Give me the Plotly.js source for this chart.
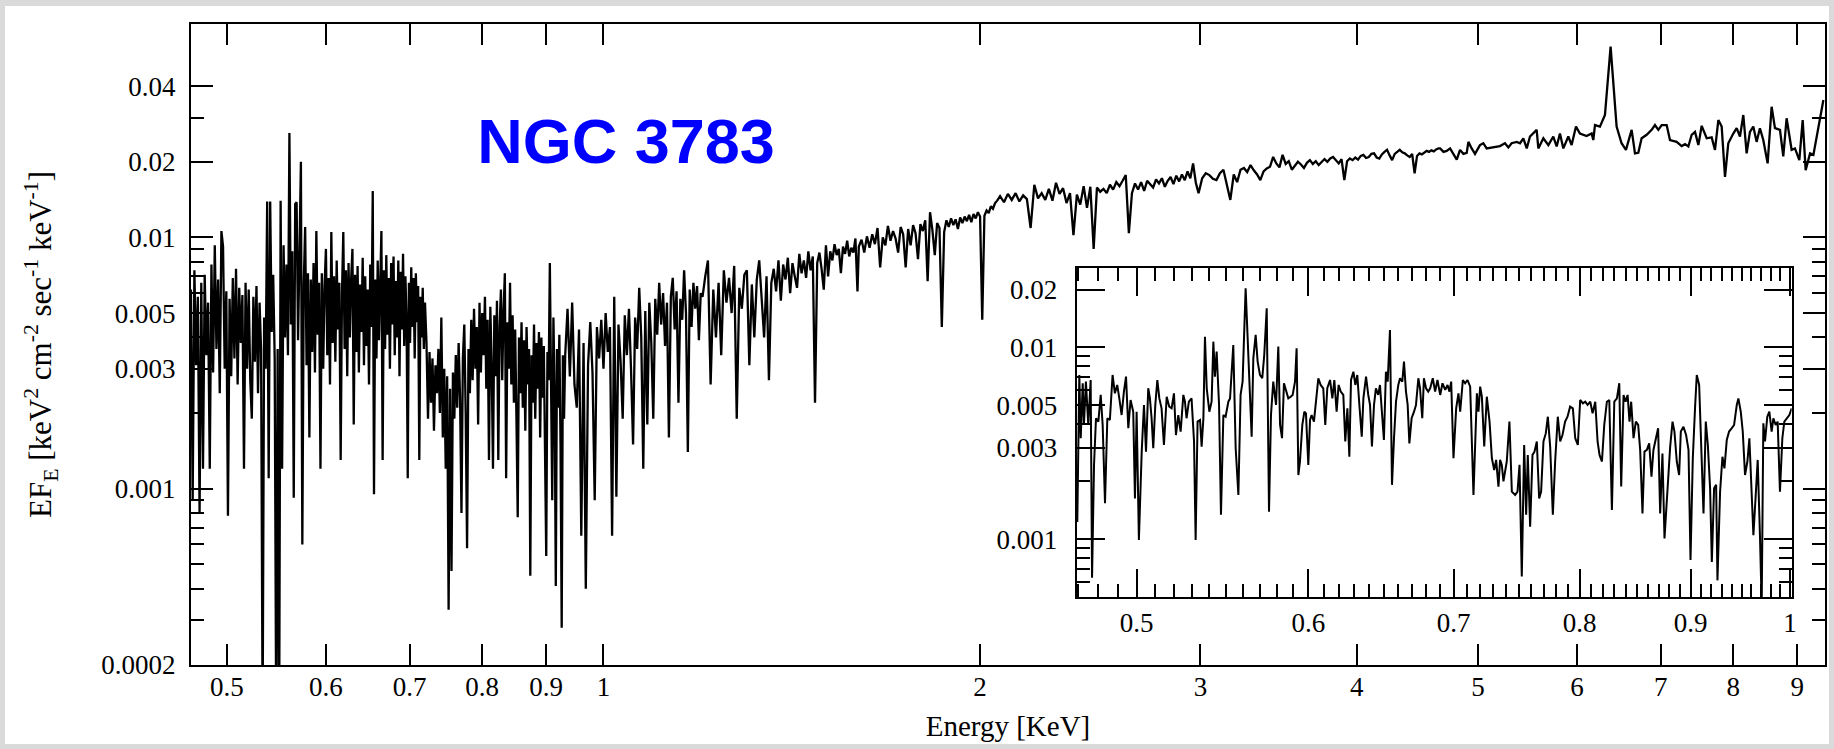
<!DOCTYPE html>
<html><head><meta charset="utf-8">
<script src="https://cdn.plot.ly/plotly-3.0.1.min.js"></script>
<style>
html,body{margin:0;padding:0;width:1834px;height:749px;overflow:hidden;background:#dadada;}
#plot{position:absolute;left:5px;top:6px;width:1824px;height:738px;background:#fff;}
</style></head><body><div id="plot"></div>
<script>
// ---------- main spectrum, 0.468-0.72 keV ----------
const softE = [0.468,0.4695,0.471,0.4725,0.474,0.4755,0.477,0.4785,0.48,0.4815,
0.483,0.4845,0.486,0.4875,0.489,0.4905,0.492,0.4935,0.495,0.4965,
0.498,0.4995,0.501,0.5025,0.504,0.5055,0.507,0.5085,0.51,0.5115,
0.513,0.5145,0.516,0.5175,0.519,0.5205,0.522,0.5235,0.525,0.5265,
0.528,0.5295,0.531,0.5325,0.534,0.5355,0.537,0.5385,0.54,0.5415,
0.543,0.5445,0.546,0.5475,0.549,0.5505,0.552,0.5535,0.555,0.5565,
0.558,0.5595,0.561,0.5625,0.564,0.5655,0.567,0.5685,0.57,0.5715,
0.573,0.5745,0.576,0.5775,0.579,0.5805,0.582,0.5835,0.585,0.5865,
0.588,0.5895,0.591,0.5925,0.594,0.5955,0.597,0.5985,0.6,0.6015,
0.603,0.6045,0.606,0.6075,0.609,0.6105,0.612,0.6135,0.615,0.6165,
0.618,0.6195,0.621,0.6225,0.624,0.6255,0.627,0.6285,0.63,0.6315,
0.633,0.6345,0.636,0.6375,0.639,0.6405,0.642,0.6435,0.645,0.6465,
0.648,0.6495,0.651,0.6525,0.654,0.6555,0.657,0.6585,0.66,0.6615,
0.663,0.6645,0.666,0.6675,0.669,0.6705,0.672,0.6735,0.675,0.6765,
0.678,0.6795,0.681,0.6825,0.684,0.6855,0.687,0.6885,0.69,0.6915,
0.693,0.6945,0.696,0.6975,0.699,0.7005,0.702,0.7035,0.705,0.7065,
0.708,0.7095,0.711,0.7125,0.714,0.7155,0.717,0.7185,0.72];
const softF = [0.0062,0.0009,0.0074,0.0031,0.0058,0.0008,0.0066,0.0012,0.0071,0.0034,
0.0055,0.0012,0.0078,0.0029,0.0093,0.0036,0.0068,0.0024,0.0106,0.0092,
0.0030,0.0061,0.00078,0.0057,0.0028,0.0069,0.0033,0.0075,0.0026,0.0063,
0.0038,0.0059,0.0012,0.0066,0.0030,0.0062,0.0027,0.0019,0.0058,0.0032,
0.0064,0.0024,0.0055,0.0036,0.00012,0.0048,0.0030,0.0139,0.0011,0.0139,
0.0042,0.0071,0.0033,0.00012,0.0036,0.0001,0.0140,0.0012,0.0093,0.0040,
0.0078,0.0034,0.0260,0.0045,0.0088,0.00092,0.0136,0.0138,0.0039,0.0082,
0.0200,0.0006,0.0065,0.0110,0.0031,0.0072,0.0016,0.0068,0.0035,0.0079,
0.0029,0.0106,0.0041,0.0066,0.0012,0.0072,0.0030,0.0064,0.0090,0.0034,
0.0069,0.0026,0.0105,0.0038,0.0070,0.0032,0.0081,0.0043,0.0066,0.0013,
0.0060,0.0105,0.0036,0.0074,0.0028,0.0079,0.0040,0.0068,0.0090,0.0018,
0.0071,0.0035,0.0077,0.0029,0.0065,0.0042,0.0083,0.0031,0.0070,0.0037,
0.0062,0.0026,0.0078,0.0044,0.0153,0.00095,0.0068,0.0033,0.0081,0.0039,
0.0072,0.0106,0.0013,0.0074,0.0036,0.0085,0.0041,0.0069,0.0030,0.0079,
0.0045,0.0084,0.0034,0.0067,0.0040,0.0081,0.0028,0.0073,0.0043,0.0086,
0.0037,0.0070,0.0047,0.0011,0.0066,0.0038,0.0076,0.0044,0.0069,0.0033,
0.0072,0.0046,0.0064,0.0013,0.0058,0.0040,0.0063,0.0036,0.0055];

// ---------- 0.722-0.93 keV ----------
const midE = [0.722,0.724,0.726,0.728,0.730,0.732,0.734,0.736,0.738,0.740,
0.742,0.744,0.746,0.748,0.750,0.752,0.754,0.756,0.758,0.760,
0.762,0.764,0.766,0.768,0.770,0.772,0.774,0.776,0.778,0.780,
0.782,0.784,0.786,0.788,0.790,0.792,0.794,0.796,0.798,0.800,
0.802,0.804,0.806,0.808,0.810,0.812,0.814,0.816,0.818,0.820,
0.822,0.824,0.826,0.828,0.830,0.832,0.834,0.836,0.838,0.840,
0.842,0.844,0.846,0.848,0.850,0.852,0.854,0.856,0.858,0.860,
0.862,0.864,0.866,0.868,0.870,0.872,0.874,0.876,0.878,0.880,
0.882,0.884,0.886,0.888,0.890,0.892,0.894,0.896,0.898,0.900,
0.902,0.904,0.906,0.908,0.910,0.912,0.914,0.916,0.918,0.920,
0.922,0.924,0.926,0.928,0.930];
const midF = [0.0038,0.0019,0.0035,0.0022,0.0033,0.0017,0.0031,0.0024,0.0036,0.0020,
0.0048,0.0016,0.0030,0.0012,0.0028,0.00033,0.0025,0.00047,0.0029,0.0019,
0.0034,0.0021,0.0038,0.0023,0.0008,0.0033,0.0045,0.0020,0.00058,0.0036,
0.0024,0.0047,0.0027,0.0052,0.0030,0.0044,0.0018,0.0055,0.0029,0.0050,
0.0034,0.0058,0.0025,0.0047,0.0013,0.0053,0.0031,0.0012,0.0049,0.0028,
0.0056,0.0013,0.0044,0.0062,0.0027,0.0051,0.0072,0.0011,0.0046,0.0030,
0.0066,0.0026,0.0049,0.0022,0.0043,0.0019,0.00077,0.0040,0.0024,0.0046,
0.0021,0.0039,0.0017,0.0044,0.0026,0.0036,0.00045,0.0034,0.0022,0.0045,
0.0019,0.0038,0.0025,0.0042,0.0016,0.0040,0.0023,0.0037,0.0011,0.00054,
0.0035,0.0027,0.0079,0.0033,0.0009,0.0048,0.0024,0.00041,0.0036,0.0021,
0.0041,0.0015,0.00028,0.0034,0.0019];

// ---------- 0.932-1.2 keV ----------
const c1E = [0.932,0.936,0.940,0.944,0.948,0.952,0.956,0.960,0.964,0.968,
0.972,0.976,0.980,0.984,0.988,0.992,0.996,1.000,1.004,1.008,
1.012,1.016,1.020,1.024,1.028,1.032,1.036,1.040,1.044,1.048,
1.052,1.056,1.060,1.064,1.068,1.072,1.076,1.080,1.084,1.088,
1.092,1.096,1.100,1.104,1.108,1.112,1.116,1.120,1.124,1.128,
1.132,1.136,1.140,1.144,1.148,1.152,1.156,1.160,1.164,1.168,
1.172,1.176,1.180,1.184,1.188,1.192,1.196];
const c1F = [0.0034,0.0052,0.0028,0.0055,0.0026,0.0021,0.0043,0.00065,0.0038,0.0004,
0.0031,0.0046,0.0029,0.0009,0.0044,0.0033,0.0047,0.0030,0.0050,0.0035,
0.0044,0.00065,0.0058,0.00093,0.0045,0.0032,0.0019,0.0049,0.0034,0.0052,
0.0030,0.0015,0.0048,0.0036,0.0063,0.0040,0.0012,0.0051,0.0018,0.0055,
0.0038,0.0019,0.0057,0.0041,0.0066,0.0045,0.0060,0.0037,0.0055,0.0016,
0.0058,0.0069,0.0043,0.0061,0.0022,0.0057,0.0047,0.0074,0.0050,0.0014,
0.0062,0.0044,0.0066,0.0052,0.0064,0.0039,0.0060];

// ---------- 1.2-1.6 keV ----------
const c2E = [1.200,1.206,1.212,1.218,1.224,1.230,1.236,1.242,1.248,1.254,
1.260,1.266,1.272,1.278,1.284,1.290,1.296,1.302,1.308,1.314,
1.320,1.326,1.332,1.338,1.344,1.350,1.356,1.362,1.368,1.374,
1.380,1.386,1.392,1.398,1.404,1.410,1.416,1.422,1.428,1.434,
1.440,1.446,1.452,1.458,1.464,1.470,1.476,1.482,1.488,1.494,
1.500,1.506,1.512,1.518,1.524,1.530,1.536,1.542,1.548,1.554,
1.560,1.566,1.572,1.578,1.584,1.590,1.596];
const c2F = [0.0058,0.0070,0.0081,0.0026,0.0062,0.0040,0.0066,0.0034,0.0074,0.0055,
0.0069,0.0050,0.0077,0.0019,0.0063,0.0052,0.0071,0.0074,0.0031,0.0065,
0.0040,0.0068,0.0081,0.0057,0.0040,0.0070,0.0027,0.0066,0.0075,0.0061,
0.0081,0.0056,0.0078,0.0068,0.0083,0.0060,0.0079,0.0070,0.0063,0.0086,
0.0072,0.0081,0.0069,0.0088,0.0074,0.0084,0.0022,0.0079,0.0087,0.0075,
0.0062,0.0093,0.0070,0.0088,0.0081,0.0094,0.0085,0.0090,0.0072,0.0092,
0.0086,0.0097,0.0084,0.0091,0.0087,0.0099,0.0061];

// ---------- 1.6-2.07 keV ----------
const c3E = [1.600,1.608,1.616,1.624,1.632,1.640,1.648,1.656,1.664,1.672,
1.680,1.688,1.696,1.704,1.712,1.720,1.728,1.736,1.744,1.752,
1.760,1.768,1.776,1.784,1.792,1.800,1.808,1.816,1.824,1.832,
1.840,1.848,1.856,1.864,1.872,1.880,1.888,1.896,1.904,1.912,
1.920,1.928,1.936,1.944,1.952,1.960,1.968,1.976,1.984,1.992,
2.000,2.008,2.016,2.024,2.032,2.040,2.048,2.056,2.064];
const c3F = [0.0092,0.0098,0.0087,0.0101,0.0091,0.0103,0.0094,0.0109,0.0076,0.0100,
0.0093,0.0111,0.0097,0.0106,0.0099,0.0087,0.0110,0.0103,0.0076,0.0108,
0.0093,0.0112,0.0104,0.0082,0.0113,0.0106,0.0117,0.0067,0.0126,0.0107,
0.0085,0.0114,0.0109,0.0044,0.0105,0.0117,0.0110,0.0119,0.0112,0.0118,
0.0108,0.0120,0.0114,0.0121,0.0116,0.0123,0.0115,0.0124,0.0119,0.0126,
0.0121,0.0047,0.0122,0.0128,0.0125,0.0133,0.0130,0.0137,0.0140];

// ---------- 2.07-3.0 keV ----------
const d1E = [2.075,2.090,2.105,2.120,2.135,2.150,2.165,2.180,2.195,2.210,
2.225,2.240,2.255,2.270,2.285,2.300,2.315,2.330,2.345,2.360,
2.375,2.390,2.405,2.420,2.435,2.450,2.465,2.480,2.495,2.510,
2.525,2.540,2.555,2.570,2.585,2.600,2.615,2.630,2.645,2.660,
2.675,2.690,2.705,2.720,2.735,2.750,2.765,2.780,2.795,2.810,
2.825,2.840,2.855,2.870,2.885,2.900,2.915,2.930,2.945,2.960,
2.975,2.990];
const d1F = [0.0146,0.0138,0.0149,0.0141,0.0150,0.0139,0.0147,0.0142,0.0109,0.0162,
0.0143,0.0150,0.0141,0.0156,0.0140,0.0165,0.0149,0.0157,0.0137,0.0150,
0.0102,0.0148,0.0135,0.0160,0.0131,0.0159,0.0090,0.0158,0.0152,0.0156,
0.0150,0.0162,0.0155,0.0166,0.0160,0.0168,0.0177,0.0104,0.0150,0.0164,
0.0155,0.0166,0.0153,0.0168,0.0162,0.0158,0.0170,0.0164,0.0172,0.0159,
0.0168,0.0174,0.0163,0.0176,0.0167,0.0178,0.0169,0.0183,0.0172,0.0197,
0.0165,0.0150];

// ---------- 3.0-4.65 keV ----------
const d2E = [3.01,3.03,3.05,3.07,3.09,3.11,3.13,3.15,3.17,3.19,
3.21,3.23,3.25,3.27,3.29,3.31,3.33,3.35,3.37,3.39,
3.41,3.43,3.45,3.47,3.49,3.51,3.53,3.55,3.57,3.59,
3.61,3.63,3.65,3.67,3.69,3.71,3.73,3.75,3.77,3.79,
3.81,3.83,3.85,3.87,3.89,3.91,3.93,3.95,3.97,3.99,
4.01,4.03,4.05,4.07,4.09,4.11,4.13,4.15,4.17,4.19,
4.21,4.23,4.25,4.27,4.29,4.31,4.33,4.35,4.37,4.39,
4.41,4.43,4.45,4.47,4.49,4.51,4.53,4.55,4.57,4.59,
4.61,4.63,4.65];
const d2F = [0.0172,0.0180,0.0177,0.0171,0.0169,0.0180,0.0186,0.0162,0.0141,0.0178,
0.0166,0.0186,0.0189,0.0182,0.0194,0.0185,0.0178,0.0169,0.0183,0.0188,
0.0191,0.0209,0.0197,0.0190,0.0213,0.0196,0.0201,0.0186,0.0193,0.0200,
0.0195,0.0189,0.0198,0.0203,0.0196,0.0201,0.0194,0.0199,0.0205,0.0200,
0.0206,0.0209,0.0203,0.0197,0.0205,0.0169,0.0201,0.0206,0.0203,0.0208,
0.0204,0.0211,0.0213,0.0207,0.0209,0.0215,0.0216,0.0208,0.0206,0.0214,
0.0219,0.0223,0.0212,0.0203,0.0215,0.0220,0.0223,0.0218,0.0216,0.0212,
0.0209,0.0215,0.0180,0.0211,0.0216,0.0214,0.0218,0.0221,0.0219,0.0222,
0.0220,0.0224,0.0226];

// ---------- 4.66-9.45 keV (Fe K line) ----------
const hardE = [4.664,4.693,4.721,4.750,4.779,4.809,4.838,4.868,4.898,4.913,
4.943,4.973,5.019,5.050,5.081,5.144,5.207,5.255,5.288,5.320,
5.370,5.403,5.436,5.470,5.503,5.571,5.588,5.640,5.692,5.744,
5.780,5.815,5.851,5.905,5.941,5.989,6.033,6.107,6.164,6.183,
6.202,6.259,6.317,6.383,6.454,6.513,6.566,6.635,6.676,6.717,
6.758,6.821,6.884,6.926,6.969,7.012,7.077,7.120,7.208,7.275,
7.320,7.365,7.410,7.456,7.502,7.548,7.618,7.688,7.735,7.783,
7.831,7.879,7.927,8.000,8.050,8.099,8.149,8.199,8.249,8.300,
8.351,8.402,8.454,8.522,8.585,8.638,8.718,8.771,8.825,8.907,
8.962,9.034,9.090,9.140,9.214,9.271,9.443];
const hardF = [0.0226,0.0219,0.0221,0.0226,0.0216,0.0204,0.0223,0.0215,0.0217,0.0240,
0.0226,0.0215,0.0233,0.0237,0.0226,0.0228,0.0231,0.0237,0.0228,0.0237,
0.0240,0.0237,0.0248,0.0226,0.0252,0.0268,0.0226,0.0248,0.0233,0.0252,
0.0230,0.0259,0.0226,0.0252,0.0233,0.0276,0.0259,0.0253,0.0259,0.0244,
0.0280,0.0276,0.0307,0.0574,0.0276,0.0237,0.0223,0.0268,0.0216,0.0217,
0.0248,0.0256,0.0268,0.0280,0.0268,0.0280,0.0280,0.0244,0.0240,0.0231,
0.0235,0.0230,0.0256,0.0263,0.0233,0.0278,0.0248,0.0250,0.0223,0.0293,
0.0276,0.0174,0.0237,0.0259,0.0272,0.0252,0.0307,0.0216,0.0263,0.0276,
0.0240,0.0272,0.0244,0.0197,0.0331,0.0272,0.0268,0.0210,0.0298,0.0223,
0.0226,0.0203,0.0293,0.0185,0.0216,0.0213,0.0352];

// ---------- inset spectrum, 0.47-0.68 keV ----------
const insetE1 = [0.4695,0.4705,0.4712,0.4722,0.4728,0.4738,0.4750,0.4762,0.4769,0.4779,
0.4789,0.4801,0.4813,0.4823,0.4835,0.4847,0.4860,0.4874,0.4886,0.4898,
0.4909,0.4921,0.4933,0.4944,0.4956,0.4968,0.4982,0.4991,0.5000,0.5012,
0.5027,0.5039,0.5050,0.5062,0.5071,0.5080,0.5089,0.5100,0.5111,0.5122,
0.5134,0.5147,0.5162,0.5176,0.5189,0.5202,0.5213,0.5226,0.5239,0.5254,
0.5263,0.5272,0.5285,0.5300,0.5314,0.5323,0.5334,0.5348,0.5357,0.5367,
0.5376,0.5386,0.5401,0.5414,0.5424,0.5433,0.5443,0.5457,0.5468,0.5482,
0.5495,0.5511,0.5521,0.5540,0.5554,0.5570,0.5583,0.5595,0.5613,0.5629,
0.5639,0.5649,0.5659,0.5673,0.5685,0.5699,0.5713,0.5725,0.5740,0.5754,
0.5766,0.5780,0.5797,0.5811,0.5822,0.5834,0.5846,0.5859,0.5873,0.5888,
0.5900,0.5915,0.5925,0.5936,0.5946,0.5961,0.5974,0.5984,0.5999,0.6010,
0.6020,0.6035,0.6048,0.6063,0.6078,0.6095,0.6108,0.6121,0.6139,0.6154,
0.6167,0.6182,0.6195,0.6209,0.6226,0.6239,0.6253,0.6266,0.6277,0.6293,
0.6306,0.6319,0.6333,0.6349,0.6360,0.6378,0.6393,0.6405,0.6418,0.6432,
0.6445,0.6461,0.6473,0.6489,0.6500,0.6514,0.6526,0.6542,0.6556,0.6570,
0.6584,0.6600,0.6612,0.6628,0.6640,0.6654,0.6666,0.6678,0.6694,0.6711,
0.6725,0.6742,0.6754,0.6770,0.6782,0.6797,0.6813];
const insetF1 = [0.00123,0.00718,0.00336,0.0065,0.00394,0.00663,0.00394,0.00676,0.00063,0.00244,
0.00427,0.0041,0.00565,0.00394,0.00154,0.00427,0.00418,0.00718,0.00576,0.00637,
0.00542,0.00444,0.00588,0.00704,0.00379,0.00532,0.00462,0.00163,0.00462,0.00099,
0.00286,0.00501,0.00286,0.00612,0.00542,0.00427,0.00298,0.00501,0.00676,0.00542,
0.00481,0.0031,0.00553,0.00491,0.00481,0.00576,0.00349,0.00444,0.00364,0.00565,
0.00521,0.00427,0.00521,0.00542,0.00323,0.00099,0.0041,0.00418,0.00304,0.00427,
0.01137,0.00612,0.00462,0.00521,0.01071,0.00704,0.0095,0.00501,0.00134,0.00444,
0.00435,0.00521,0.00542,0.01029,0.00298,0.0017,0.00565,0.00663,0.02032,0.00989,
0.00612,0.00342,0.00877,0.01161,0.00843,0.00718,0.0069,0.00913,0.01598,0.00139,
0.00444,0.00663,0.00501,0.01009,0.00394,0.00336,0.0065,0.00588,0.00542,0.00553,
0.00565,0.00663,0.00989,0.00216,0.00254,0.00394,0.00462,0.00453,0.00244,0.00418,
0.00444,0.0041,0.00521,0.0069,0.00637,0.00612,0.00394,0.00612,0.00676,0.00542,
0.00676,0.00462,0.00637,0.00588,0.00565,0.00323,0.00481,0.00269,0.00676,0.00747,
0.00637,0.00718,0.00501,0.00342,0.00542,0.00704,0.00565,0.00501,0.00304,0.00501,
0.00612,0.00565,0.00637,0.0041,0.00329,0.00747,0.00663,0.01232,0.00192,0.00336,
0.00521,0.00637,0.0069,0.00663,0.00843,0.00588,0.00501,0.00316,0.00427,0.00462,
0.00501,0.0069,0.00612,0.00427,0.0069,0.00612,0.00588];

// ---------- inset spectrum, 0.68-1.0 keV ----------
const insetE2 = [0.6827,0.6846,0.6863,0.6880,0.6900,0.6917,0.6937,0.6954,0.6968,0.6981,
0.6998,0.7018,0.7035,0.7048,0.7068,0.7085,0.7103,0.7123,0.7148,0.7174,
0.7186,0.7199,0.7212,0.7230,0.7250,0.7271,0.7289,0.7307,0.7322,0.7340,
0.7353,0.7366,0.7379,0.7405,0.7426,0.7445,0.7471,0.7490,0.7506,0.7524,
0.7543,0.7559,0.7572,0.7591,0.7610,0.7626,0.7645,0.7664,0.7680,0.7699,
0.7718,0.7735,0.7754,0.7776,0.7795,0.7817,0.7837,0.7856,0.7878,0.7898,
0.7920,0.7943,0.7963,0.7985,0.8005,0.8028,0.8048,0.8068,0.8091,0.8111,
0.8134,0.8154,0.8171,0.8192,0.8212,0.8235,0.8256,0.8279,0.8300,0.8323,
0.8344,0.8361,0.8382,0.8400,0.8418,0.8435,0.8450,0.8471,0.8492,0.8513,
0.8531,0.8552,0.8570,0.8592,0.8613,0.8634,0.8652,0.8674,0.8695,0.8714,
0.8735,0.8754,0.8782,0.8807,0.8829,0.8847,0.8869,0.8891,0.8907,0.8932,
0.8957,0.8980,0.8999,0.9021,0.9043,0.9059,0.9082,0.9101,0.9124,0.9146,
0.9166,0.9188,0.9205,0.9227,0.9247,0.9260,0.9286,0.9309,0.9329,0.9352,
0.9375,0.9402,0.9425,0.9452,0.9468,0.9492,0.9512,0.9535,0.9559,0.9579,
0.9603,0.9620,0.9643,0.9664,0.9688,0.9705,0.9722,0.9739,0.9763,0.9784,
0.9808,0.9826,0.9850,0.9871,0.9895,0.9920,0.9941,0.9966,0.9994,1.0019];
const insetF2 = [0.00612,0.0069,0.00588,0.00676,0.00565,0.0065,0.006,0.00637,0.00588,0.00663,
0.00264,0.00481,0.00576,0.00462,0.00676,0.0065,0.00676,0.00624,0.0017,0.00576,
0.00462,0.00624,0.00553,0.00304,0.00553,0.0041,0.00264,0.00229,0.00259,0.00188,
0.00259,0.00244,0.002,0.00254,0.0041,0.00177,0.0017,0.00177,0.00244,0.00064,
0.0031,0.00134,0.00275,0.00116,0.00275,0.00286,0.00323,0.00163,0.00177,0.00323,
0.00356,0.00435,0.00304,0.00134,0.00254,0.00435,0.00323,0.00349,0.0041,0.00435,
0.00491,0.00481,0.00336,0.0031,0.00532,0.00511,0.00521,0.00501,0.00521,0.00453,
0.00521,0.00323,0.00275,0.00254,0.00394,0.00521,0.00532,0.00142,0.00521,0.00542,
0.0065,0.00188,0.00565,0.00521,0.00565,0.0041,0.00521,0.00336,0.0041,0.00394,
0.00292,0.00136,0.00286,0.00292,0.00316,0.00212,0.00292,0.00336,0.00379,0.00136,
0.0028,0.00101,0.00184,0.00304,0.0041,0.00364,0.00254,0.00216,0.00364,0.00386,
0.00349,0.00292,0.00078,0.00264,0.00491,0.00718,0.00637,0.00323,0.00136,0.0041,
0.0031,0.00184,0.00076,0.00184,0.00192,0.00061,0.00177,0.00269,0.00234,0.00329,
0.00364,0.00379,0.00394,0.00501,0.00542,0.00462,0.00364,0.00216,0.00254,0.00336,
0.00163,0.00105,0.00167,0.00259,0.00101,0.00045,0.00402,0.00323,0.00435,0.00462,
0.00364,0.00427,0.00394,0.0041,0.00177,0.00336,0.0041,0.00427,0.00444,0.00481];

// ---------- ticks ----------
const mainXTicks = [0.5,0.6,0.7,0.8,0.9,1,2,3,4,5,6,7,8,9];
const mainXLabels = ['0.5','0.6','0.7','0.8','0.9','1','2','3','4','5','6','7','8','9'];
const mainYTicks = [0.0002,0.001,0.003,0.005,0.01,0.02,0.04];
const mainYLabels = ['0.0002','0.001','0.003','0.005','0.01','0.02','0.04'];
const mainYMinor = [0.0003,0.0004,0.0005,0.0006,0.0007,0.0008,0.0009,0.002,0.004,0.006,0.007,0.008,0.009,0.03];
const insetXTicks = [0.5,0.6,0.7,0.8,0.9,1];
const insetXLabels = ['0.5','0.6','0.7','0.8','0.9','1'];
const insetXMinor = [0.47,0.48,0.49,0.51,0.52,0.53,0.54,0.55,0.56,0.57,0.58,0.59,
0.61,0.62,0.63,0.64,0.65,0.66,0.67,0.68,0.69,0.71,0.72,0.73,0.74,0.75,0.76,0.77,0.78,0.79,
0.81,0.82,0.83,0.84,0.85,0.86,0.87,0.88,0.89,0.91,0.92,0.93,0.94,0.95,0.96,0.97,0.98,0.99];
const insetYTicks = [0.001,0.003,0.005,0.01,0.02];
const insetYLabels = ['0.001','0.003','0.005','0.01','0.02'];
const insetYMinor = [0.0006,0.0007,0.0008,0.0009,0.002,0.004,0.006,0.007,0.008,0.009];

const mainE = [].concat(softE, midE, c1E, c2E, c3E, d1E, d2E, hardE);
const mainF = [].concat(softF, midF, c1F, c2F, c3F, d1F, d2F, hardF);
const insetE = insetE1.concat(insetE2);
const insetF = insetF1.concat(insetF2);

const serif = '"Liberation Serif", "Times New Roman", Times, serif';
const tickFont = {family: serif, size: 27, color: '#000'};

const traces = [
  {x: mainE, y: mainF, type: 'scatter', mode: 'lines', line: {color: '#000', width: 2.3},
   xaxis: 'x', yaxis: 'y', hoverinfo: 'skip'},
  {x: insetE, y: insetF, type: 'scatter', mode: 'lines', line: {color: '#000', width: 2},
   xaxis: 'x2', yaxis: 'y2', hoverinfo: 'skip'}
];

function axisBase(extra) {
  return Object.assign({
    type: 'log', tickmode: 'array', ticks: 'inside', tickwidth: 2, tickcolor: '#000',
    showline: true, linecolor: '#000', linewidth: 2, mirror: 'ticks',
    showgrid: false, zeroline: false, tickfont: tickFont, fixedrange: true
  }, extra);
}

const layout = {
  width: 1824, height: 738,
  margin: {l: 186, r: 4, t: 18, b: 79},
  paper_bgcolor: '#fff', plot_bgcolor: '#fff',
  showlegend: false,
  title: {text: '<b>NGC 3783</b>', font: {family: '"Liberation Sans", Arial, sans-serif', size: 63, color: '#0000ff'},
          xref: 'paper', yref: 'paper', x: 0.2662, xanchor: 'center', y: 0.8175, yanchor: 'middle'},
  xaxis: axisBase({range: [-0.3297, 0.9764], tickvals: mainXTicks, ticktext: mainXLabels, ticklen: 21,
                   ticklabelstandoff: -3,
                   title: {text: 'Energy [KeV]', font: {family: serif, size: 29, color: '#000'}, standoff: 14}}),
  yaxis: axisBase({range: [-3.7015, -1.1508], tickvals: mainYTicks, ticktext: mainYLabels, ticklen: 22,
                   ticklabelstandoff: 8,
                   minor: {tickmode: 'array', tickvals: mainYMinor, ticks: 'inside', ticklen: 13, tickwidth: 2, tickcolor: '#000'},
                   title: {text: 'EF<sub>E</sub> [keV<sup>2</sup> cm<sup>-2</sup> sec<sup>-1</sup> keV<sup>-1</sup>]',
                           font: {family: serif, size: 31, color: '#000'}, standoff: 40}}),
  xaxis2: axisBase({domain: [0.5420, 0.9796], anchor: 'y2', range: [-0.32868, 0.00081],
                    tickvals: insetXTicks, ticktext: insetXLabels, ticklen: 28, ticklabelstandoff: 1,
                    minor: {tickmode: 'array', tickvals: insetXMinor, ticks: 'inside', ticklen: 13, tickwidth: 2, tickcolor: '#000'}}),
  yaxis2: axisBase({domain: [0.1061, 0.6186], anchor: 'x2', range: [-3.3014, -1.5886],
                    tickvals: insetYTicks, ticktext: insetYLabels, ticklen: 28, ticklabelstandoff: 12,
                    minor: {tickmode: 'array', tickvals: insetYMinor, ticks: 'inside', ticklen: 13, tickwidth: 2, tickcolor: '#000'}})
};

Plotly.newPlot('plot', traces, layout, {staticPlot: true, displayModeBar: false});
</script></body></html>
